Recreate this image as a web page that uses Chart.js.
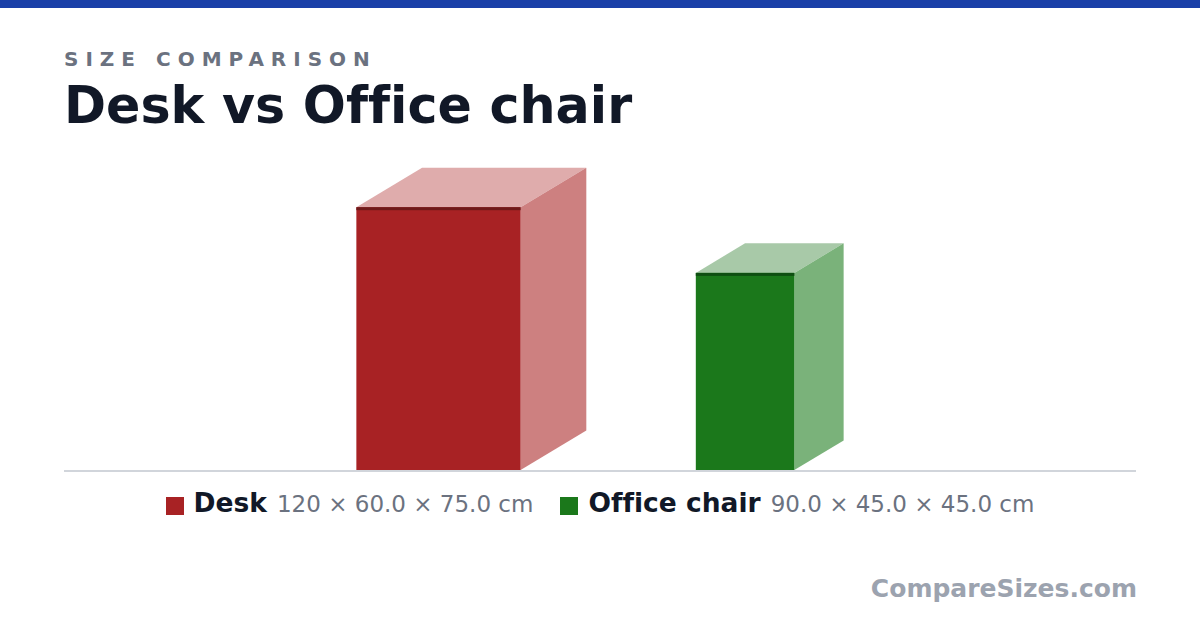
<!DOCTYPE html>
<html><head><meta charset="utf-8">
<script src="https://cdn.jsdelivr.net/npm/chart.js@4.4.1/dist/chart.umd.min.js"></script>
<style>
html,body{margin:0;padding:0;background:#fff;width:1200px;height:630px;overflow:hidden;font-family:"DejaVu Sans",sans-serif;font-variant-ligatures:none;font-feature-settings:"liga" 0,"clig" 0;}
#topbar{position:absolute;left:0;top:0;width:1200px;height:8px;background:#1a40a8;}
#kicker{position:absolute;left:64px;top:49px;font-size:20px;line-height:20px;font-weight:bold;letter-spacing:7px;color:#6b7280;white-space:nowrap;}
#title{position:absolute;left:64px;top:80px;font-size:50.7px;line-height:51px;font-weight:bold;color:#111827;white-space:nowrap;}
#chartWrap{position:absolute;left:64px;top:150px;width:1072px;height:330px;}
#legend{position:absolute;left:0;top:490px;width:1200px;display:flex;justify-content:center;align-items:baseline;white-space:nowrap;line-height:26px;}
.item{display:flex;align-items:baseline;}
.item + .item{margin-left:27px;}
.sw{display:inline-block;width:18px;height:18px;vertical-align:-3px;margin-right:10px;position:relative;top:3px;}
.nm{font-size:26.5px;font-weight:bold;color:#111827;}
.dm{font-size:23px;color:#6b7280;margin-left:10px;}
#wm{position:absolute;right:63px;top:576px;font-size:25px;line-height:25px;font-weight:bold;color:#9ca3af;white-space:nowrap;}
</style></head>
<body>
<div id="topbar"></div>
<div id="kicker">SIZE COMPARISON</div>
<div id="title">Desk vs Office chair</div>
<div id="chartWrap"><canvas id="c" width="1072" height="330"></canvas></div>
<div id="legend"></div>
<div id="wm">CompareSizes.com</div>
<script>
// Data (cm)
const names = ["Desk", "Office chair"];
const heights = [120, 90];
const depths = [60, 45];
const widths = [75, 45];
const colors = ["#a82224", "#1b781b"];
const topColors = ["#dfacac", "#a8c9a8"];
const sideColors = ["#cd8080", "#7ab27a"];
const edgeColors = ["#6e1a1a", "#0f4f12"];

const PX_PER_CM = 2.19;
const GAP_CM = 50;
const DX_F = 0.5, DY_F = 0.3;

// layout positions along x (cm)
const starts = [];
let cur = 0;
for (let i = 0; i < names.length; i++) {
  starts.push(cur);
  cur += widths[i] + DX_F * depths[i] + GAP_CM;
}
const groupW = cur - GAP_CM;
const areaW = 1072, areaH = 320;
const spanX = areaW / PX_PER_CM;
const xMin = groupW / 2 - spanX / 2;
const xMax = xMin + spanX;
const yMax = areaH / PX_PER_CM;

function fmt(v){ return v >= 100 ? String(v) : v.toFixed(1); }

// legend
const lg = document.getElementById('legend');
names.forEach((n, i) => {
  const it = document.createElement('div'); it.className = 'item';
  const sw = document.createElement('span'); sw.className = 'sw'; sw.style.background = colors[i];
  const nm = document.createElement('span'); nm.className = 'nm'; nm.textContent = n;
  const dm = document.createElement('span'); dm.className = 'dm';
  dm.textContent = fmt(heights[i]) + ' \u00d7 ' + fmt(depths[i]) + ' \u00d7 ' + fmt(widths[i]) + ' cm';
  it.appendChild(sw); it.appendChild(nm); it.appendChild(dm);
  lg.appendChild(it);
});

const boxPlugin = {
  id: 'boxes',
  beforeDatasetsDraw(chart) {
    const ctx = chart.ctx, x = chart.scales.x, y = chart.scales.y;
    const y0 = y.getPixelForValue(0);
    ctx.save();
    ctx.fillStyle = '#d1d5db';
    ctx.fillRect(chart.chartArea.left, y0, chart.chartArea.right - chart.chartArea.left, 2);
    ctx.restore();
  },
  afterDatasetsDraw(chart) {
    const ctx = chart.ctx, x = chart.scales.x, y = chart.scales.y;
    ctx.save();
    chart.data.datasets.forEach((ds, i) => {
      const xl = x.getPixelForValue(starts[i]);
      const xr = x.getPixelForValue(starts[i] + widths[i]);
      const yb = y.getPixelForValue(0);
      const yt = y.getPixelForValue(heights[i]);
      const dx = x.getPixelForValue(starts[i] + DX_F * depths[i]) - xl;
      const dy = yb - y.getPixelForValue(DY_F * depths[i]);
      ctx.fillStyle = topColors[i];
      ctx.beginPath();
      ctx.moveTo(xl, yt); ctx.lineTo(xr, yt); ctx.lineTo(xr + dx, yt - dy); ctx.lineTo(xl + dx, yt - dy);
      ctx.closePath(); ctx.fill();
      ctx.fillStyle = sideColors[i];
      ctx.beginPath();
      ctx.moveTo(xr, yt); ctx.lineTo(xr + dx, yt - dy); ctx.lineTo(xr + dx, yb - dy); ctx.lineTo(xr, yb);
      ctx.closePath(); ctx.fill();
      ctx.fillStyle = colors[i];
      ctx.fillRect(xl, yt, xr - xl, yb - yt);
      ctx.fillStyle = edgeColors[i];
      ctx.fillRect(xl, yt, xr - xl, 3);
    });
    ctx.restore();
  }
};

new Chart(document.getElementById('c'), {
  type: 'scatter',
  data: {
    datasets: names.map((n, i) => ({
      label: n,
      data: [{ x: starts[i] + widths[i] / 2, y: heights[i] }],
      pointRadius: 0,
      backgroundColor: colors[i]
    }))
  },
  options: {
    responsive: false,
    devicePixelRatio: 1,
    animation: false,
    layout: { padding: { left: 0, right: 0, top: 0, bottom: 10 } },
    plugins: { legend: { display: false }, tooltip: { enabled: false } },
    scales: {
      x: { type: 'linear', min: xMin, max: xMax, display: false },
      y: { type: 'linear', min: 0, max: yMax, display: false }
    }
  },
  plugins: [boxPlugin]
});
</script>
</body></html>
